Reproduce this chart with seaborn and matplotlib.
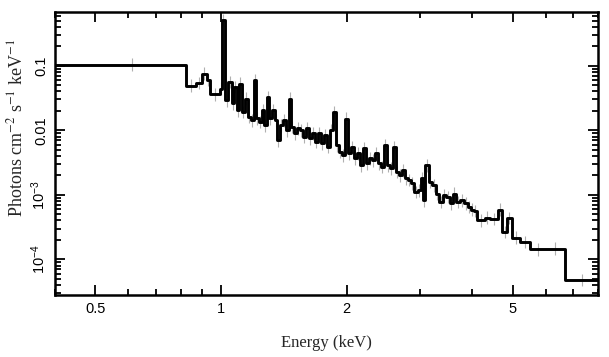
import numpy as np
import pandas as pd
import matplotlib
matplotlib.use("Agg")
import matplotlib.pyplot as plt
import seaborn as sns
from matplotlib.ticker import LogLocator, NullFormatter, FixedLocator, FixedFormatter

# bin edges (keV) of the unfolded spectrum
edges = [0.400, 0.823, 0.870, 0.902, 0.924, 0.942, 0.992, 1.006, 1.022, 1.040,
         1.060, 1.074, 1.092, 1.104, 1.123, 1.141, 1.160, 1.180, 1.200, 1.213,
         1.233, 1.254, 1.268, 1.289, 1.303, 1.325, 1.347, 1.362, 1.384, 1.408,
         1.431, 1.455, 1.471, 1.496, 1.521, 1.546, 1.572, 1.598, 1.624, 1.652,
         1.679, 1.707, 1.736, 1.764, 1.794, 1.824, 1.854, 1.885, 1.917, 1.949,
         1.982, 2.015, 2.048, 2.083, 2.117, 2.152, 2.188, 2.225, 2.262, 2.299,
         2.338, 2.377, 2.416, 2.457, 2.497, 2.539, 2.581, 2.624, 2.668, 2.713,
         2.758, 2.804, 2.851, 2.899, 2.963, 3.013, 3.046, 3.080, 3.147, 3.200,
         3.272, 3.327, 3.401, 3.458, 3.534, 3.594, 3.654, 3.736, 3.819, 3.904,
         3.969, 4.036, 4.110, 4.288, 4.408, 4.614, 4.727, 4.849, 4.985, 5.220,
         5.516, 5.970, 6.683, 8.000]

# model flux per bin (photons cm^-2 s^-1 keV^-1)
flux = [0.104, 0.0490, 0.0538, 0.0752, 0.0600, 0.0360, 0.0440, 0.515, 0.0290,
        0.0557, 0.0261, 0.0466, 0.0203, 0.0527, 0.0191, 0.0308, 0.0160, 0.0142,
        0.0592, 0.0153, 0.0134, 0.0203, 0.0119, 0.0327, 0.0153, 0.0203, 0.0142,
        0.00698, 0.0119, 0.0142, 0.00996, 0.0308, 0.0112, 0.00895, 0.0107,
        0.00996, 0.00785, 0.0107, 0.00750, 0.00895, 0.00657, 0.00895, 0.00627,
        0.00834, 0.00549, 0.00996, 0.0191, 0.00584, 0.00460, 0.00409, 0.0151,
        0.00439, 0.00549, 0.00367, 0.00439, 0.00286, 0.00525, 0.00307, 0.00367,
        0.00342, 0.00439, 0.00307, 0.00269, 0.00584, 0.00286, 0.00257, 0.00549,
        0.00225, 0.00200, 0.00239, 0.00180, 0.00168, 0.00150, 0.00110, 0.00117,
        0.00180, 0.000822, 0.00286, 0.00158, 0.00140, 0.00104, 0.000774,
        0.000982, 0.000925, 0.000738, 0.00104, 0.000774, 0.000822, 0.000738,
        0.000648, 0.000590, 0.000560, 0.000403, 0.000444, 0.000418, 0.000590,
        0.000266, 0.000437, 0.000217, 0.000186, 0.000143, 0.000147, 0.0000474]

rel_err = 0.25

sns.set_theme(style="ticks")
plt.rcParams["font.family"] = ["Liberation Serif", "DejaVu Serif"]
plt.rcParams["mathtext.fontset"] = "stix"

fig = plt.figure(figsize=(6.09, 3.57), dpi=100)
ax = fig.add_axes([0.0903, 0.1737, 0.8911, 0.7927])
ax.set_xscale("log")
ax.set_yscale("log")

e = np.array(edges)
f = np.array(flux)
mid = 0.5 * (e[:-1] + e[1:])

# data points: grey error bars
ax.errorbar(mid, f, yerr=[f - f / (1 + rel_err), f * rel_err],
            fmt="none", ecolor="#b0b0b0", elinewidth=0.8, zorder=1)

df = pd.DataFrame({"energy": e, "flux": np.append(f, f[-1])})
sns.lineplot(data=df, x="energy", y="flux", drawstyle="steps-post",
             color="black", linewidth=2.1, ax=ax, zorder=2)

ax.set_xlim(0.4, 8.0)
ax.set_ylim(2.8e-5, 0.68)

ax.xaxis.set_major_locator(FixedLocator([0.5, 1, 2, 5]))
ax.xaxis.set_major_formatter(FixedFormatter(["0.5", "1", "2", "5"]))
ax.xaxis.set_minor_locator(FixedLocator([0.4, 0.6, 0.7, 0.8, 0.9, 3, 4, 6, 7, 8]))
ax.xaxis.set_minor_formatter(NullFormatter())

ax.yaxis.set_major_locator(FixedLocator([1e-4, 1e-3, 0.01, 0.1]))
ax.yaxis.set_major_formatter(FixedFormatter([r"$\mathregular{10^{-4}}$",
                                             r"$\mathregular{10^{-3}}$",
                                             "0.01", "0.1"]))
ax.yaxis.set_minor_locator(LogLocator(base=10, subs=np.arange(2, 10), numticks=20))
ax.yaxis.set_minor_formatter(NullFormatter())

ax.tick_params(which="both", direction="in", top=True, right=True, width=1.3,
               colors="black")
ax.tick_params(which="major", length=7, labelsize=10.5, pad=5)
ax.tick_params(which="minor", length=4)
for lab in ax.get_xticklabels() + ax.get_yticklabels():
    lab.set_family(["Liberation Sans", "DejaVu Sans"])
for lab in ax.get_yticklabels():
    lab.set_rotation(90)
    lab.set_va("center")

for s in ax.spines.values():
    s.set_linewidth(1.8)
    s.set_color("black")

ax.set_xlabel("Energy (keV)", fontsize=12, labelpad=14)
ax.set_ylabel(r"Photons cm$^{-2}$ s$^{-1}$ keV$^{-1}$", fontsize=13)
ax.yaxis.set_label_coords(-0.052, 0.59)
ax.grid(False)

fig.savefig("out.png", dpi=100)
